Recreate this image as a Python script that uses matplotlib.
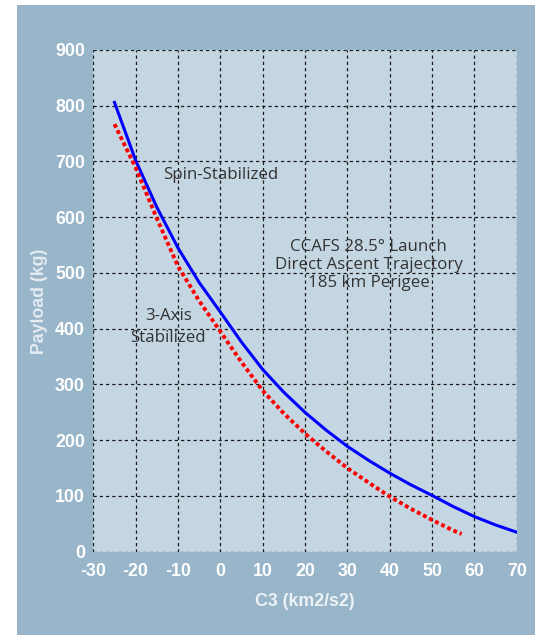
import matplotlib
matplotlib.use("Agg")
import matplotlib.pyplot as plt
from matplotlib.patches import Rectangle

# C3 (km2/s2) vs payload (kg)
c3_spin = [-25, -20, -15, -10, -5, 0, 5, 10, 15, 20, 25, 30, 35, 40, 45, 50, 55, 60, 65, 70]
payload_spin = [806, 702, 618, 545, 483, 430, 376, 327, 286, 250, 218, 189, 164, 141, 120, 101, 81, 63, 48, 35]

c3_axis = [-25, -20, -15, -10, -5, 0, 5, 10, 15, 20, 25, 30, 35, 40, 45, 50, 55, 57]
payload_axis = [767, 689, 598, 512, 450, 395, 340, 289, 248, 212, 180, 150, 124, 99, 77, 57, 38, 32]

xticks = [-30, -20, -10, 0, 10, 20, 30, 40, 50, 60, 70]
yticks = [0, 100, 200, 300, 400, 500, 600, 700, 800, 900]

outer_bg = "#98b5ca"
inner_bg = "#c5d6e3"
text_col = "#333333"
tick_col = "#ffffff"

plt.rcParams["font.family"] = ["Liberation Sans", "DejaVu Sans"]

fig = plt.figure(figsize=(5.38, 6.35), dpi=100)
fig.patch.set_facecolor("white")
bg = Rectangle((17/538, 0), (535-17)/538, 1 - 5/635,
               transform=fig.transFigure, facecolor=outer_bg,
               edgecolor="none", zorder=-10)
fig.add_artist(bg)

ax = fig.add_axes([93.3/538, 1 - 551.7/635, (516.7-93.3)/538, (551.7-50)/635])
ax.set_zorder(1)
ax.set_facecolor(inner_bg)
for s in ax.spines.values():
    s.set_visible(False)

ax.set_xlim(-30, 70)
ax.set_ylim(0, 900)
ax.set_xticks(xticks, labels=[str(v) for v in xticks], fontweight="bold")
ax.set_yticks(yticks, labels=[str(v) for v in yticks], fontweight="bold")
ax.grid(True, color="#1a1a1a", linestyle=(0, (2.6, 2.4)), linewidth=0.9)
ax.set_axisbelow(True)

ax.tick_params(length=0, labelsize=12.8, labelcolor=tick_col)
ax.tick_params(axis="x", pad=8)
ax.tick_params(axis="y", pad=6)

ax.plot(c3_spin, payload_spin, color="#0000ff", linewidth=2.2, zorder=3)
ax.plot(c3_axis, payload_axis, color="#ff0000", linewidth=2.8,
        linestyle=(0, (1, 0.75)), dash_capstyle="butt", zorder=3)

ax.set_xlabel("C3 (km2/s2)", fontsize=12.8, fontweight="bold", color="#edf2f6")
ax.xaxis.set_label_coords(0.5, -50/501.7)
ax.xaxis.label.set_va("center")
ax.set_ylabel("Payload (kg)", fontsize=12.8, fontweight="bold", color="#e4ebf1")
ax.yaxis.set_label_coords(-53.3/423.4, 0.5)
ax.yaxis.label.set_va("center")

ax.text(0, 676, "Spin-Stabilized", fontsize=12.2, color=text_col,
        family="Open Sans", ha="center", va="center")
ax.text(-12.3, 403, "3-Axis\nStabilized", fontsize=12.2, color=text_col,
        family="Open Sans", ha="center", va="center", linespacing=1.45)
ax.text(35, 514, "CCAFS 28.5\u00b0 Launch\nDirect Ascent Trajectory\n185 km Perigee",
        fontsize=12.2, color=text_col, family="Open Sans", ha="center",
        va="center", linespacing=1.17, zorder=4)

fig.savefig("out.png", dpi=100, facecolor=fig.get_facecolor())
